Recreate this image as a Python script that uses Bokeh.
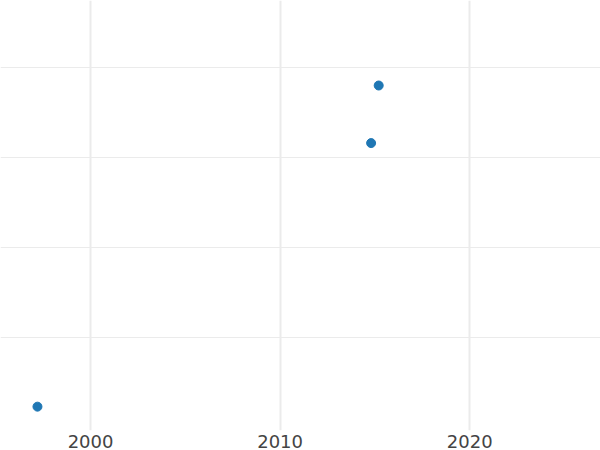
from bokeh.plotting import figure
from bokeh.embed import file_html
from bokeh.resources import INLINE
from bokeh.models import FixedTicker

years = [1997.2, 2014.8, 2015.2]
values = [2.3, 31.6, 38.0]
x_ticks = [2000, 2010, 2020]
y_ticks = [10, 20, 30, 40]

p = figure(width=600, height=450, output_backend="svg", toolbar_location=None,
           x_range=(1995.25, 2026.9), y_range=(-0.35, 47.45), min_border=0)
p.outline_line_color = None
p.background_fill_color = "white"
p.border_fill_color = "white"

p.xaxis.ticker = FixedTicker(ticks=x_ticks)
p.yaxis.ticker = FixedTicker(ticks=y_ticks)
p.xaxis.axis_line_color = None
p.xaxis.major_tick_line_color = None
p.xaxis.minor_tick_line_color = None
p.xaxis.major_tick_out = 0
p.xaxis.major_label_standoff = 4
p.xaxis.major_label_text_font = "DejaVu Sans"
p.xaxis.major_label_text_font_size = "18px"
p.xaxis.major_label_text_color = "#444444"
p.yaxis.visible = False

p.xgrid.grid_line_color = "#ebebeb"
p.xgrid.grid_line_width = 2
p.ygrid.grid_line_color = "#ebebeb"
p.ygrid.grid_line_width = 1

p.scatter(years, values, size=9, color="#1f77b4", line_color="#1f77b4")

open("out.html", "w").write(file_html(p, INLINE))
